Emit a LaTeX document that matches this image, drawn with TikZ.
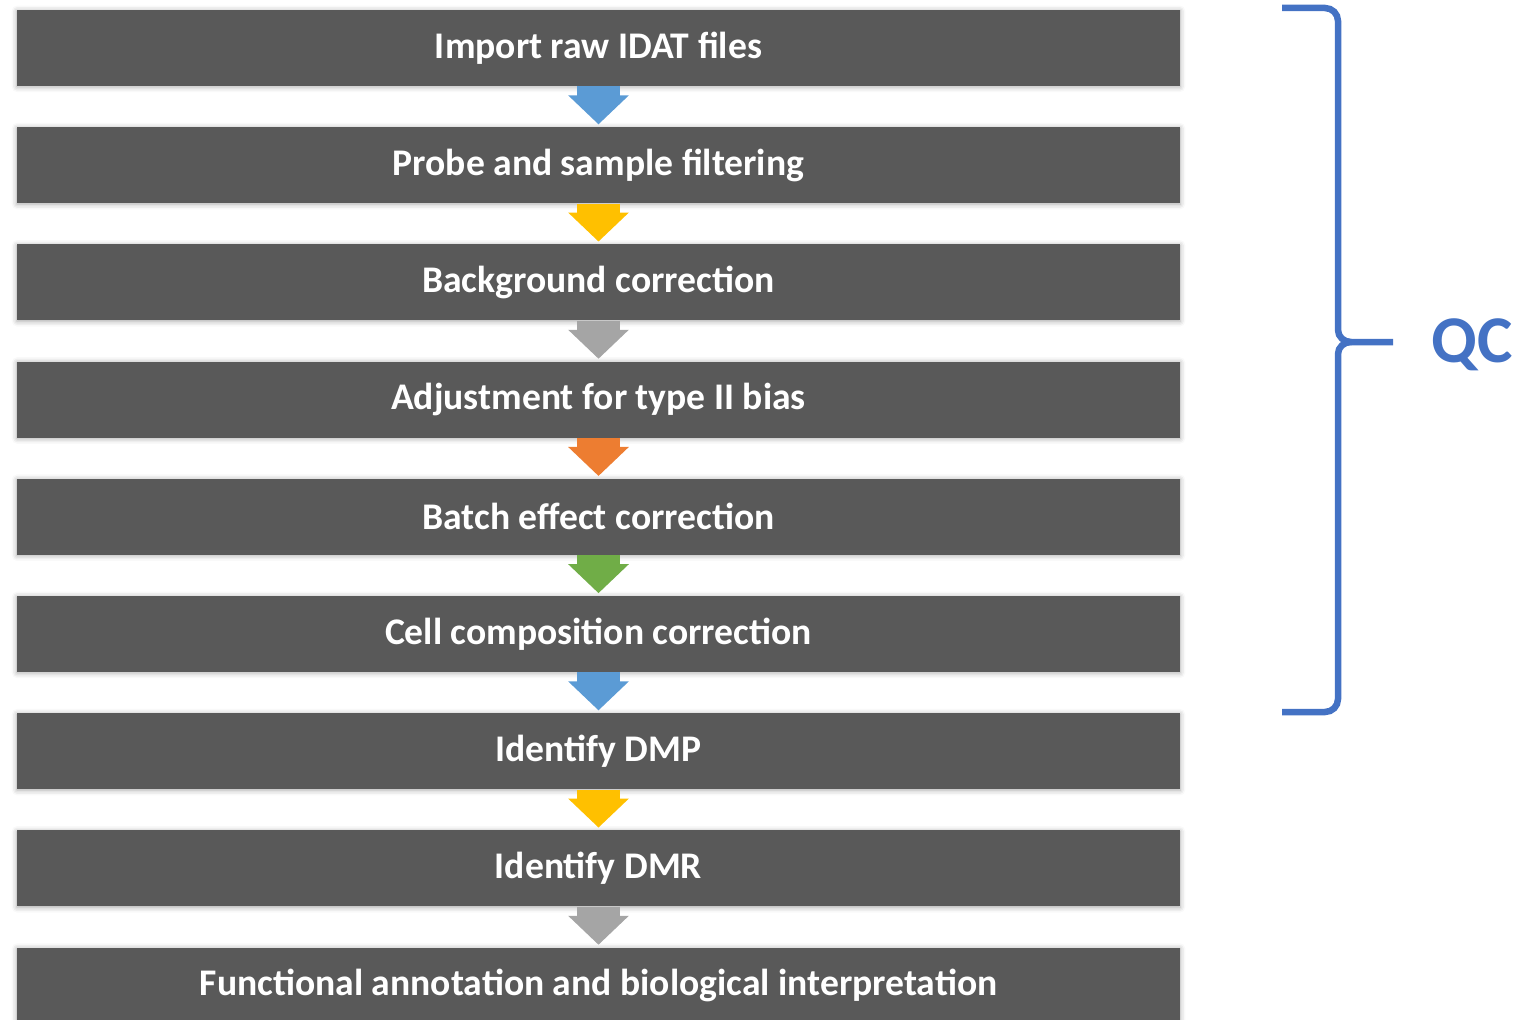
\documentclass[tikz,border=0pt]{standalone}
\usepackage{fontspec}
\setmainfont{Carlito}
\usepackage{tikz}
\usetikzlibrary{arrows.meta,positioning,shadows.blur}
\usepackage{xcolor}
\definecolor{Bar}{HTML}{595959}
\definecolor{OBlue}{HTML}{5B9BD5}
\definecolor{OGold}{HTML}{FFC000}
\definecolor{OGray}{HTML}{A5A5A5}
\definecolor{OOrange}{HTML}{ED7D31}
\definecolor{OGreen}{HTML}{70AD47}
\definecolor{QCBlue}{HTML}{4472C4}
\tikzset{
  stepbar/.style={fill=Bar, draw=none, minimum width=23.26cm, minimum height=1.52cm,
    inner sep=0pt, text=white, font=\fontsize{21.4}{24}\selectfont\bfseries,
    blur shadow={shadow xshift=0pt, shadow yshift=-0.5pt, shadow blur radius=3pt,
      shadow opacity=35}},
  blockarr/.style={-{Triangle[length=0.58cm,width=1.18cm]}, line width=0.86cm,
    color=#1, shorten >=0.05cm},
  blockarr/.default={OBlue},
}
\begin{document}
\begin{tikzpicture}
  \useasboundingbox (0,0) rectangle (30.4,-20.38);
  \node[stepbar] (raw) at (11.97,-0.96) {Import raw IDAT files};
  \node[stepbar, below=0.81cm of raw] (filt) {Probe and sample filtering};
  \node[stepbar, below=0.81cm of filt] (bg) {Background correction};
  \node[stepbar, below=0.81cm of bg] (adj) {Adjustment for type II bias};
  \node[stepbar, below=0.81cm of adj] (batch) {Batch effect correction};
  \node[stepbar, below=0.81cm of batch] (cell) {Cell composition correction};
  \node[stepbar, below=0.81cm of cell] (dmp) {Identify DMP};
  \node[stepbar, below=0.81cm of dmp] (dmr) {Identify DMR};
  \node[stepbar, below=0.81cm of dmr] (func) {Functional annotation and biological interpretation};
  \draw[blockarr=OBlue] (raw) -- (filt);
  \draw[blockarr=OGold] (filt) -- (bg);
  \draw[blockarr=OGray] (bg) -- (adj);
  \draw[blockarr=OOrange] (adj) -- (batch);
  \draw[blockarr=OGreen] (batch) -- (cell);
  \draw[blockarr=OBlue] (cell) -- (dmp);
  \draw[blockarr=OGold] (dmp) -- (dmr);
  \draw[blockarr=OGray] (dmr) -- (func);
  \draw[QCBlue, line width=0.13cm]
    (25.64,-0.16) -- (26.5,-0.16) to[out=0,in=90] (26.76,-0.42) -- (26.76,-6.6)
    to[out=-90,in=180] (27.02,-6.84) -- (27.86,-6.84);
  \draw[QCBlue, line width=0.13cm]
    (27.02,-6.84) to[out=180,in=90] (26.76,-7.08) -- (26.76,-13.98)
    to[out=-90,in=0] (26.5,-14.24) -- (25.64,-14.24);
  \node[text=QCBlue, font=\fontsize{38}{42}\selectfont\bfseries] (qc) at (29.45,-6.9) {QC};
\end{tikzpicture}
\end{document}
